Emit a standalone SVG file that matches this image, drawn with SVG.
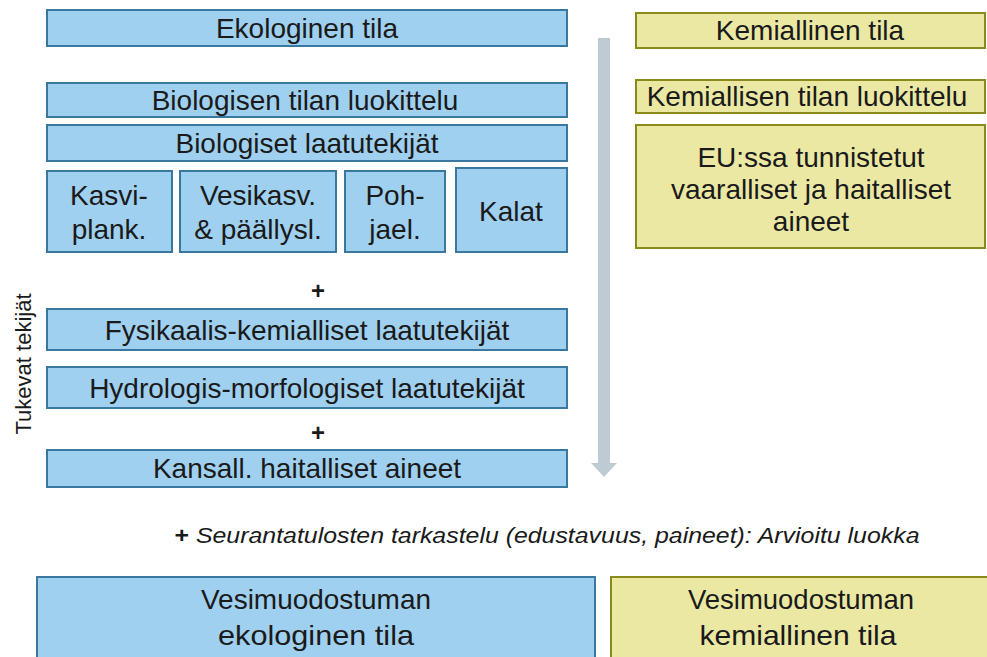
<svg xmlns="http://www.w3.org/2000/svg" width="987" height="657" viewBox="0 0 987 657">
<style>
.b{fill:#9fd0ef;stroke:#3b78a0;stroke-width:2}
.y{fill:#ebe8a4;stroke:#8a8a1c;stroke-width:2}
text{font-family:"Liberation Sans",Arial,sans-serif;fill:#1a1a1a;text-anchor:middle}
.t{font-size:28px}
.n{font-size:28px}
</style>
<rect width="987" height="657" fill="#fff"/>
<g id="eco"><rect class="b" x="47" y="10" width="520" height="36"/><text class="t" x="307" y="38">Ekologinen tila</text></g>
<g id="bioclass"><rect class="b" x="47" y="83" width="520" height="34"/><text class="t" x="305" y="110">Biologisen tilan luokittelu</text></g>
<g id="biofactors"><rect class="b" x="47" y="125" width="520" height="36"/><text class="t" x="307" y="153">Biologiset laatutekijät</text></g>
<g id="kasvi"><rect class="b" x="47" y="171" width="125" height="81"/><text class="t" x="109" y="205">Kasvi-</text><text class="t" x="109" y="239">plank.</text></g>
<g id="vesikasv"><rect class="b" x="180" y="171" width="156" height="81"/><text class="t" x="258" y="205">Vesikasv.</text><text class="t" x="258" y="239">&amp; päällysl.</text></g>
<g id="poh"><rect class="b" x="345" y="171" width="100" height="81"/><text class="t" x="395" y="205">Poh-</text><text class="t" x="395" y="239">jael.</text></g>
<g id="kalat"><rect class="b" x="456" y="168" width="111" height="84"/><text class="t" x="511" y="221">Kalat</text></g>
<g id="plus1"><text x="318" y="299" style="font-size:24px;font-weight:bold">+</text></g>
<g id="fysik"><rect class="b" x="47" y="309" width="520" height="41"/><text class="t" x="307" y="340">Fysikaalis-kemialliset laatutekijät</text></g>
<g id="hydro"><rect class="b" x="47" y="367" width="520" height="41"/><text class="t" x="307" y="398">Hydrologis-morfologiset laatutekijät</text></g>
<g id="plus2"><text x="318" y="441" style="font-size:24px;font-weight:bold">+</text></g>
<g id="kansall"><rect class="b" x="47" y="450" width="520" height="37"/><text class="t" x="307" y="478">Kansall. haitalliset aineet</text></g>
<g id="tukevat"><text x="0" y="0" transform="translate(31,364) rotate(-90)" style="font-size:22px">Tukevat tekijät</text></g>
<g id="connectors"><rect x="598" y="38" width="12" height="425" fill="#bfcbd3"/><polygon points="591,463 617,463 604,477" fill="#bfcbd3"/></g>
<g id="kem"><rect class="y" x="636" y="13" width="349" height="35"/><text class="t" x="810" y="40">Kemiallinen tila</text></g>
<g id="kemclass"><rect class="y" x="636" y="80" width="349" height="33"/><text class="t" x="807" y="106">Kemiallisen tilan luokittelu</text></g>
<g id="eu"><rect class="y" x="636" y="125" width="349" height="123"/><text class="t" x="811" y="167">EU:ssa tunnistetut</text><text class="t" x="811" y="199">vaaralliset ja haitalliset</text><text class="t" x="811" y="231">aineet</text></g>
<g id="seuranta"><text x="547" y="543" style="font-size:22px" textLength="745" lengthAdjust="spacingAndGlyphs"><tspan style="font-weight:bold">+ </tspan><tspan style="font-style:italic">Seurantatulosten tarkastelu (edustavuus, paineet): Arvioitu luokka</tspan></text></g>
<g id="vesieco"><rect class="b" x="37" y="577" width="558" height="90"/><text class="n" x="316" y="609" textLength="230" lengthAdjust="spacingAndGlyphs">Vesimuodostuman</text><text class="n" x="316" y="645" textLength="196" lengthAdjust="spacingAndGlyphs">ekologinen tila</text></g>
<g id="vesikem"><rect class="y" x="611" y="577" width="390" height="90"/><text class="n" x="801" y="609" textLength="226" lengthAdjust="spacingAndGlyphs">Vesimuodostuman</text><text class="n" x="798" y="645" textLength="197" lengthAdjust="spacingAndGlyphs">kemiallinen tila</text></g>
</svg>
